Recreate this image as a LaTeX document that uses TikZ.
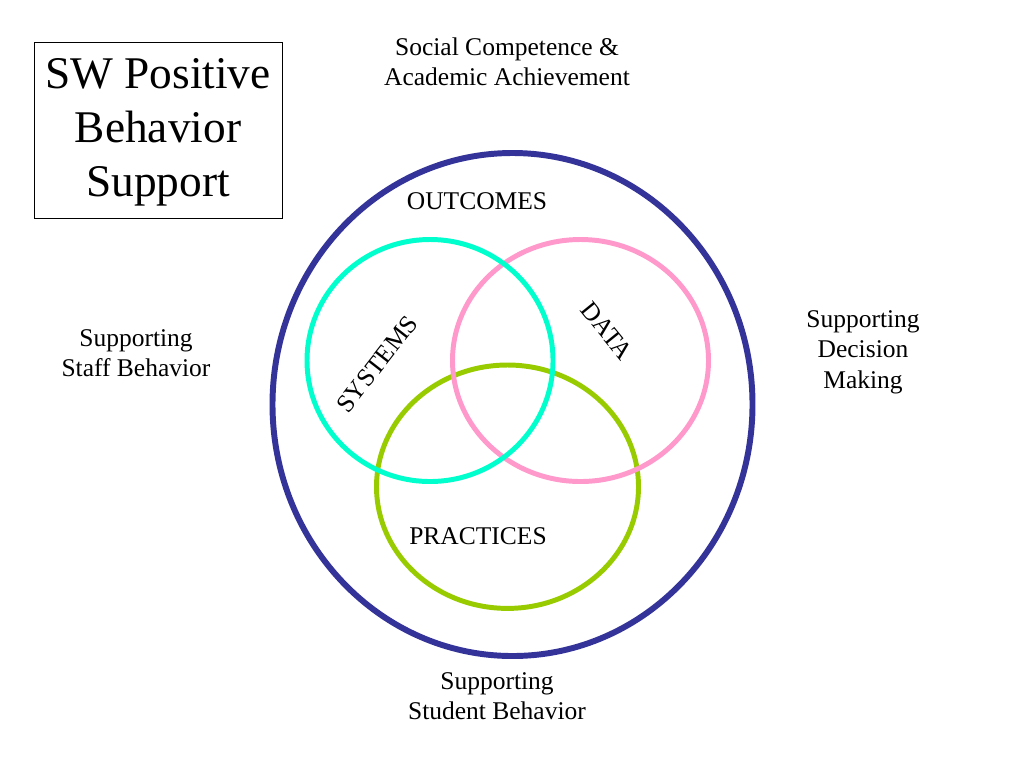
\documentclass[tikz,border=0pt]{standalone}
\usepackage{fontspec}
\IfFontExistsTF{LiberationSerif-Regular.ttf}
  {\setmainfont{LiberationSerif-Regular.ttf}}
  {\setmainfont{Liberation Serif}}
\definecolor{ringnavy}{RGB}{51,51,153}
\definecolor{ringteal}{RGB}{0,255,204}
\definecolor{ringpink}{RGB}{255,153,204}
\definecolor{ringgreen}{RGB}{153,204,0}
\begin{document}
\begin{tikzpicture}[x=0.7058pt,y=-0.7058pt,
  lbl/.style={align=center, inner sep=0pt, font=\fontsize{18}{21.5}\selectfont},
  ring/.style={line width=3.5pt}]
\useasboundingbox (0,0) rectangle (1024,768);
% title box
\node[draw, line width=0.7pt, minimum width=248*0.7058pt, minimum height=176*0.7058pt, inner sep=0pt] (boxframe) at (158,130) {};
\node[align=center, inner sep=0pt, font=\fontsize{32}{38}\selectfont] (title) at (158,132) {SW Positive\\Behavior\\Support};
% circles
\draw[line width=4.2pt, ringnavy] (512.5,404.5) ellipse [x radius=240, y radius=251.5];
\draw[ring, ringgreen] (507.5,486.7) ellipse [x radius=131, y radius=121.7];
\draw[ring, ringpink] (580.5,360.5) ellipse [x radius=128, y radius=121];
\draw[ring, ringteal] (430,360.5) ellipse [x radius=123, y radius=121];
% labels
\node[lbl] (goal) at (507,62) {Social Competence \&\\Academic Achievement};
\node[lbl] (outcomes) at (477,201) {OUTCOMES};
\node[lbl] (practices) at (478,536) {PRACTICES};
\node[lbl, rotate=52] (systems) at (377,364) {SYSTEMS};
\node[lbl, rotate=-51] (data) at (607,331) {DATA};
\node[lbl] (staff) at (136,353) {Supporting\\Staff Behavior};
\node[lbl] (decision) at (863,352) {Supporting\\Decision\\Making};
\node[lbl] (student) at (497,696) {Supporting\\Student Behavior};
\end{tikzpicture}
\end{document}
